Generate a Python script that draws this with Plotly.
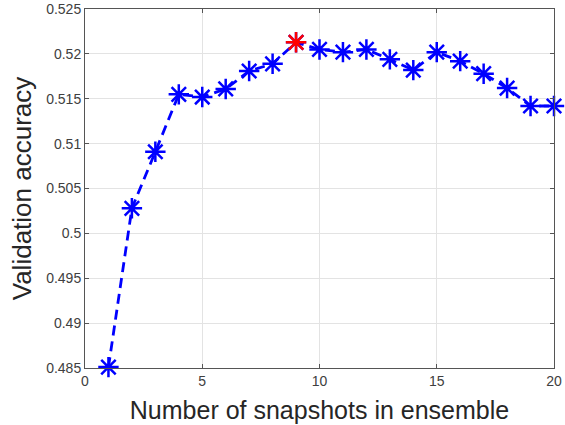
import plotly.graph_objects as go

snapshots = list(range(1, 21))
accuracy = [0.4851, 0.5028, 0.5091, 0.5155, 0.5152, 0.5161, 0.5181, 0.5189, 0.5213, 0.5205,
            0.5202, 0.5205, 0.5194, 0.5182, 0.5202, 0.5192, 0.5178, 0.5162, 0.5142, 0.5142]
best_x = [9]
best_y = [0.5213]

y_tickvals = [0.485, 0.49, 0.495, 0.5, 0.505, 0.51, 0.515, 0.52, 0.525]
y_ticktext = ["0.485", "0.49", "0.495", "0.5", "0.505", "0.51", "0.515", "0.52", "0.525"]
x_tickvals = [0, 5, 10, 15, 20]
x_ticktext = ["0", "5", "10", "15", "20"]

FONT = "Liberation Sans, Arial, sans-serif"

fig = go.Figure()
fig.add_trace(go.Scatter(
    x=snapshots, y=accuracy, mode="lines+markers",
    line=dict(color="#0000ff", width=2.8, dash="10px,6px"),
    marker=dict(symbol="asterisk-open", size=17, color="#0000ff",
                line=dict(color="#0000ff", width=2.5)),
    cliponaxis=False, showlegend=False))
fig.add_trace(go.Scatter(
    x=best_x, y=best_y, mode="markers",
    marker=dict(symbol="asterisk-open", size=17, color="#ff0000",
                line=dict(color="#ff0000", width=2.5)),
    cliponaxis=False, showlegend=False))

axis_common = dict(showgrid=True, gridcolor="#e3e3e3", gridwidth=1,
                   showline=True, linecolor="#555555", linewidth=1, mirror="ticks",
                   ticks="inside", ticklen=4, tickcolor="#555555", zeroline=False,
                   automargin=False, ticklabeloverflow="allow",
                   tickfont=dict(family=FONT, size=14, color="#404040"))

fig.update_xaxes(range=[0, 20], tickvals=x_tickvals, ticktext=x_ticktext,
                 title=dict(text="Number of snapshots in ensemble",
                            font=dict(family=FONT, size=25, color="#262626"),
                            standoff=13),
                 **axis_common)
fig.update_yaxes(range=[0.485, 0.52501], tickvals=y_tickvals, ticktext=y_ticktext,
                 title=dict(text="Validation accuracy",
                            font=dict(family=FONT, size=26, color="#262626"),
                            standoff=7),
                 **axis_common)

fig.update_layout(width=565, height=425, margin=dict(l=85, r=11, t=9, b=57),
                  plot_bgcolor="white", paper_bgcolor="white")

fig.write_html("out.html", config={"displayModeBar": False},
               post_script="document.body.style.margin='0';")
